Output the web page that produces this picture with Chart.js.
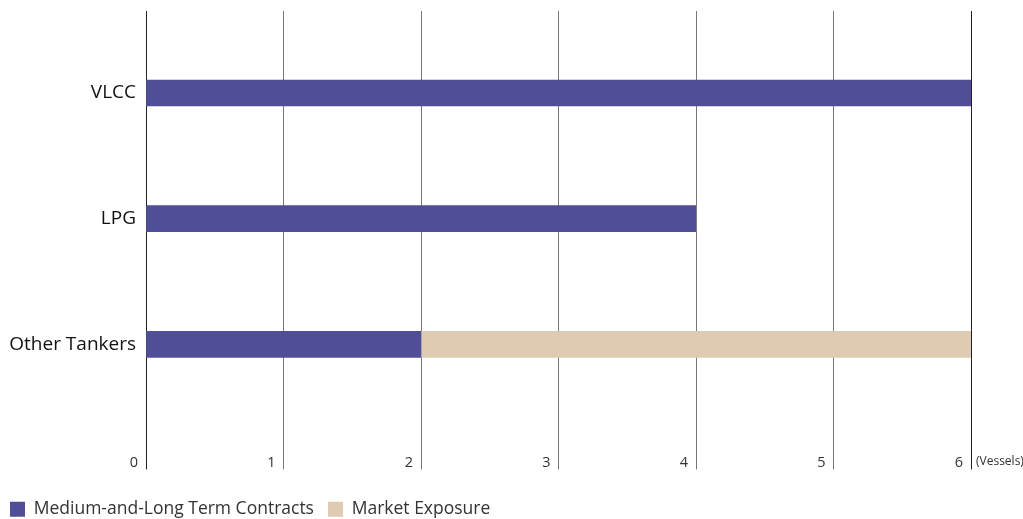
<!DOCTYPE html>
<html>
<head>
<meta charset="utf-8">
<script src="https://cdn.jsdelivr.net/npm/chart.js@4/dist/chart.umd.min.js"></script>
<style>
    html, body { margin: 0; padding: 0; background: #fff; }
    #wrap { width: 1023px; height: 519px; }
</style>
</head>
<body>
<div id="wrap"><canvas id="fleetChart"></canvas></div>
<script>
/* ── DATA ───────────────────────────────────── */
const categories     = ['VLCC', 'LPG', 'Other Tankers'];
const contractValues = [6, 4, 2];
const exposureValues = [0, 0, 4];
const xTicks         = [0, 1, 2, 3, 4, 5, 6];
const seriesNames    = ['Medium-and-Long Term Contracts', 'Market Exposure'];
const unitLabel      = '(Vessels)';

const FONT = "'Open Sans', sans-serif";

/* ── UNIT LABEL PLUGIN ──────────────────────── */
const unitPlugin = {
    id: 'unitLabel',
    afterDraw(chart) {
        const x = chart.scales.x;
        const ctx = chart.ctx;
        ctx.save();
        ctx.font = `12px ${FONT}`;
        ctx.fillStyle = '#333';
        ctx.textAlign = 'left';
        ctx.textBaseline = 'middle';
        ctx.fillText(unitLabel, x.getPixelForValue(xTicks[xTicks.length - 1]) + 5, 462);
        ctx.restore();
    }
};

const toPoints = vals => vals.map((v, i) => ({ x: v, y: i }));

new Chart(document.getElementById('fleetChart'), {
    type: 'bar',
    data: {
        datasets: [
            {
                label: seriesNames[0],
                data: toPoints(contractValues),
                backgroundColor: '#514E98',
                borderWidth: 0,
                barThickness: 26
            },
            {
                label: seriesNames[1],
                data: toPoints(exposureValues),
                backgroundColor: '#DFCAB2',
                borderWidth: 0,
                barThickness: 26
            }
        ]
    },
    options: {
        indexAxis: 'y',
        responsive: true,
        maintainAspectRatio: false,
        animation: false,
        layout: { padding: { top: 11, right: 52, left: -4, bottom: -9 } },
        plugins: {
            legend: {
                position: 'bottom',
                align: 'start',
                labels: {
                    boxWidth: 15,
                    boxHeight: 15,
                    padding: 14,
                    color: '#333',
                    font: { family: FONT, size: 17.5 }
                }
            },
            tooltip: { enabled: false }
        },
        scales: {
            x: {
                type: 'linear',
                stacked: true,
                offset: false,
                min: xTicks[0],
                max: xTicks[xTicks.length - 1],
                afterBuildTicks: scale => { scale.ticks = xTicks.map(v => ({ value: v })); },
                afterFit: scale => { scale.height = 34; },
                border: { display: false },
                grid: {
                    drawTicks: true,
                    tickLength: 17,
                    color: ctx => (ctx.tick && (ctx.tick.value === 0 || ctx.tick.value === 6)) ? '#222' : '#777'
                },
                ticks: {
                    autoSkip: false,
                    maxRotation: 0,
                    align: 'end',
                    labelOffset: -8,
                    padding: -15,
                    color: '#333',
                    font: { family: FONT, size: 14.5 }
                }
            },
            y: {
                type: 'linear',
                stacked: true,
                reverse: true,
                offset: false,
                min: -0.653,
                max: 2.861,
                afterBuildTicks: scale => { scale.ticks = categories.map((c, i) => ({ value: i })); },
                afterFit: scale => {
                    scale.width = 150;
                    scale.paddingTop = 0;
                    scale.paddingBottom = 0;
                },
                border: { display: false },
                grid: { display: false, drawTicks: false },
                ticks: {
                    autoSkip: false,
                    padding: 10,
                    color: '#111',
                    font: { family: FONT, size: 19 },
                    callback: v => categories[v]
                }
            }
        }
    },
    plugins: [unitPlugin]
});
</script>
</body>
</html>
